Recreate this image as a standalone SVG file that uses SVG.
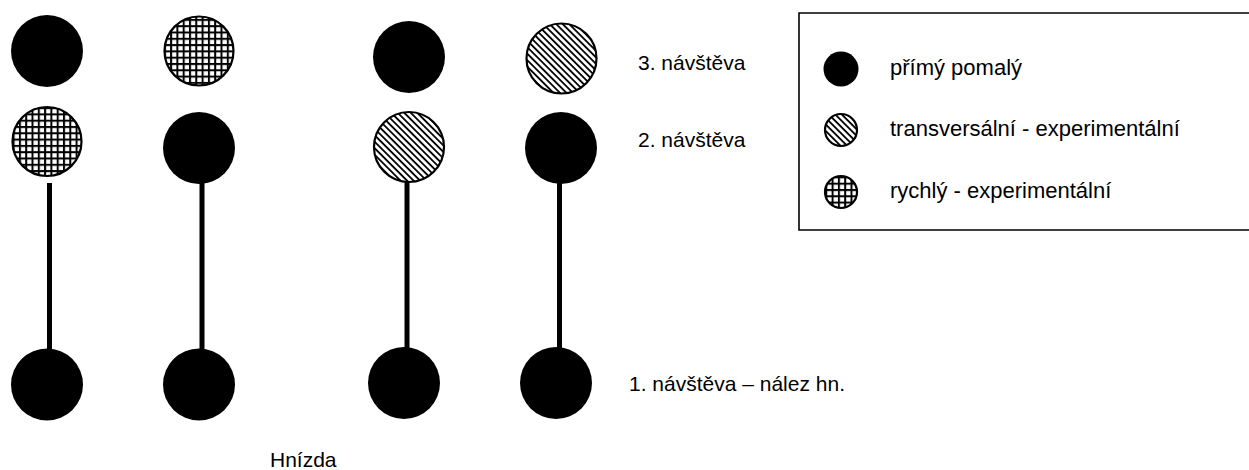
<svg xmlns="http://www.w3.org/2000/svg" width="1249" height="470" viewBox="0 0 1249 470">
  <defs>
    <!-- diagonal hatching: transversal experimental approach -->
    <pattern id="hatch" patternUnits="userSpaceOnUse" width="4.6" height="4.6" patternTransform="rotate(45)">
      <rect width="4.6" height="4.6" fill="#fff"/>
      <rect y="0" width="4.6" height="1.8" fill="#000"/>
    </pattern>
    <!-- square grid: fast experimental approach -->
    <pattern id="grid" patternUnits="userSpaceOnUse" width="6.3" height="6.3">
      <rect width="6.3" height="6.3" fill="#fff"/>
      <rect width="6.3" height="2" fill="#000"/>
      <rect width="2" height="6.3" fill="#000"/>
    </pattern>
    <style>
      .solid { fill: #000; }
      .hatch { fill: url(#hatch); stroke: #000; stroke-width: 2.2; }
      .grid { fill: url(#grid); stroke: #000; stroke-width: 2.2; }
      .stem { stroke: #000; stroke-width: 5; fill: none; }
      .lbl { font-family: "Liberation Sans", Arial, sans-serif; font-size: 21px; fill: #000; }
      .leg { font-family: "Liberation Sans", Arial, sans-serif; font-size: 22px; fill: #000; }
      .frame { fill: none; stroke: #000; stroke-width: 1.6; }
    </style>
  </defs>

  <rect width="1249" height="470" fill="#fff"/>

  <!-- stems linking first visit to second visit -->
  <g id="connectors">
    <line class="stem" x1="49.5" y1="183" x2="49.5" y2="350"/>
    <line class="stem" x1="202" y1="182" x2="202" y2="350"/>
    <line class="stem" x1="407" y1="181" x2="407" y2="349"/>
    <line class="stem" x1="559.5" y1="182" x2="559.5" y2="349"/>
  </g>

  <!-- nest 1 -->
  <g id="nest1">
    <circle class="solid" cx="47" cy="51" r="36"/>
    <circle class="grid" cx="47" cy="141.5" r="34.5"/>
    <circle class="solid" cx="47" cy="384.5" r="36"/>
  </g>

  <!-- nest 2 -->
  <g id="nest2">
    <circle class="grid" cx="199" cy="51" r="34.5"/>
    <circle class="solid" cx="199" cy="148" r="36"/>
    <circle class="solid" cx="199" cy="384.5" r="36"/>
  </g>

  <!-- nest 3 -->
  <g id="nest3">
    <circle class="solid" cx="409" cy="57" r="36"/>
    <circle class="hatch" cx="409" cy="147" r="35"/>
    <circle class="solid" cx="404" cy="383" r="36"/>
  </g>

  <!-- nest 4 -->
  <g id="nest4">
    <circle class="hatch" cx="561.5" cy="58.5" r="35"/>
    <circle class="solid" cx="561" cy="148" r="36"/>
    <circle class="solid" cx="556" cy="383" r="36"/>
  </g>

  <!-- visit labels -->
  <g id="visit-labels">
    <text class="lbl" x="638" y="70">3. návštěva</text>
    <text class="lbl" x="638" y="147">2. návštěva</text>
    <text class="lbl" x="629" y="391">1. návštěva – nález hn.</text>
  </g>

  <g id="caption">
    <text class="lbl" x="270" y="467">Hnízda</text>
  </g>

  <!-- legend: frame runs off the right edge -->
  <g id="legend">
    <path class="frame" d="M1252 13 H799 V230 H1252"/>
    <circle class="solid" cx="841" cy="69" r="17.5"/>
    <text class="leg" x="890" y="75">přímý pomalý</text>
    <circle class="hatch" cx="841" cy="130" r="16"/>
    <text class="leg" x="890" y="136">transversální - experimentální</text>
    <circle class="grid" cx="841" cy="192" r="16"/>
    <text class="leg" x="890" y="198">rychlý - experimentální</text>
  </g>
</svg>
